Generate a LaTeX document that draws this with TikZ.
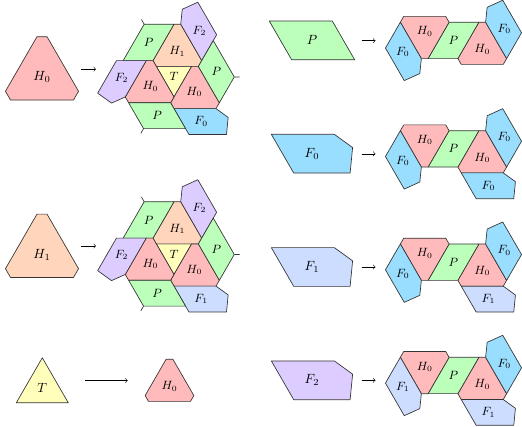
\documentclass[tikz,border=0pt]{standalone}

\definecolor{Hzero}{RGB}{255,187,187}
\definecolor{Hone}{RGB}{255,213,187}
\definecolor{Tcol}{RGB}{255,255,187}
\definecolor{Pcol}{RGB}{187,255,187}
\definecolor{Fzero}{RGB}{153,221,255}
\definecolor{Fone}{RGB}{204,221,255}
\definecolor{Ftwo}{RGB}{221,204,255}

\tikzset{
  tile/.style={draw=black!80, line width=0.5pt, line join=round},
  pics/Hmeta/.style 2 args={code={
    \draw[tile,fill=#1] (0,0)--(1,0)--(1.08,0.1386)--(0.58,1.0046)--(0.42,1.0046)--(-0.08,0.1386)--cycle;
    \node (-lbl) at (0.5,0.36) {$#2$};
  }},
  pics/Fmeta/.style 2 args={code={
    \draw[tile,fill=#1] (0,0)--(1,0)--(1.29,-0.21)--(1.25,-0.6149)--(0.355,-0.6149)--cycle;
    \node (-lbl) at (0.645,-0.307) {$#2$};
  }},
  pics/Pmeta/.style={code={
    \draw[tile,fill=Pcol] (0,0)--(1,0)--(1.355,-0.6149)--(0.355,-0.6149)--cycle;
    \node (-lbl) at (0.6775,-0.3074) {$P$};
  }},
}

% one H with its P and its F, origin at the centre of the T, turned by #6
\newcommand{\hexsector}[6]{%
  \begin{scope}[rotate=#6]
  \pic[rotate=#6] (#1h) at (-0.42,0.2425) {Hmeta={#2}{#3}};
  \draw[tile,fill=Pcol] (-0.5,0.3811)--(0,1.2471)--(-0.71,1.2471)--(-1.21,0.3811)--cycle;
  \node (#1p) at (-0.605,0.8141) {$P$};
  \pic[rotate=120+#6] (#1f) at (0.66,0.3811) {Fmeta={#4}{#5}};
  \end{scope}
}
% the patch of P: sector and its half turn
\newcommand{\Ppatch}[3]{%
  \hexsector{#1a}{Hzero}{H_0}{Fzero}{F_0}{0}
  \pic[rotate=180] (#1h) at (-0.79,1.3856) {Hmeta={Hzero}{H_0}};
  \pic[rotate=300] (#1f) at (-1.87,1.2471) {Fmeta={#2}{#3}};
}

\begin{document}
\begin{tikzpicture}[x=0.75pt, y=0.75pt]
\useasboundingbox (0,0) rectangle (522,426);

% prototiles
\begin{scope}[shift={(10.5,326)}, x=47.25pt, y=47.25pt]
\pic (protoHzero) at (0,0) {Hmeta={Hzero}{H_0}};
\end{scope}
\begin{scope}[shift={(10.5,148.55)}, x=47.25pt, y=47.25pt]
\pic (protoHone) at (0,0) {Hmeta={Hone}{H_1}};
\end{scope}
\draw[tile,fill=Tcol] (16.3,23.2)--(68.3,23.2)--(42.3,68.2)--cycle;
\node (protoT) at (42.3,38) {$T$};
\begin{scope}[shift={(269.3,404.97)}, x=47.25pt, y=47.25pt]
\pic (protoP) at (0,0) {Pmeta};
\end{scope}
\begin{scope}[shift={(271.35,291.67)}, x=47.25pt, y=47.25pt]
\pic (protoFzero) at (0,0) {Fmeta={Fzero}{F_0}};
\end{scope}
\begin{scope}[shift={(271.35,178.37)}, x=47.25pt, y=47.25pt]
\pic (protoFone) at (0,0) {Fmeta={Fone}{F_1}};
\end{scope}
\begin{scope}[shift={(271.35,65.07)}, x=47.25pt, y=47.25pt]
\pic (protoFtwo) at (0,0) {Fmeta={Ftwo}{F_2}};
\end{scope}

% arrows
\coordinate (aHzero) at (81,356.8);  \coordinate (bHzero) at (96,356.8);
\coordinate (aHone) at (81,180);     \coordinate (bHone) at (96,180);
\coordinate (aT) at (85,45.5);       \coordinate (bT) at (127.7,45.5);
\coordinate (aP) at (361.5,385.3);   \coordinate (bP) at (375.5,385.3);
\coordinate (aFzero) at (361.5,272.2); \coordinate (bFzero) at (375.5,272.2);
\coordinate (aFone) at (361.5,159);  \coordinate (bFone) at (375.5,159);
\coordinate (aFtwo) at (361.5,45.7); \coordinate (bFtwo) at (375.5,45.7);
\draw[->] (aHzero)--(bHzero);
\draw[->] (aHone)--(bHone);
\draw[->] (aT)--(bT);
\draw[->] (aP)--(bP);
\draw[->] (aFzero)--(bFzero);
\draw[->] (aFone)--(bFone);
\draw[->] (aFtwo)--(bFtwo);

% patch of H0
\begin{scope}[shift={(174,349.4)}, x=31.5pt, y=31.5pt, every node/.style={font=\small}]
\draw[tile,fill=Tcol] (-0.42,0.2425)--(0.42,0.2425)--(0,-0.485)--cycle;
\node (hzT) at (0,0) {$T$};
\hexsector{hzA}{Hone}{H_1}{Ftwo}{F_2}{0}
\hexsector{hzB}{Hzero}{H_0}{Fzero}{F_0}{-120}
\hexsector{hzC}{Hzero}{H_0}{Ftwo}{F_2}{120}
\draw[tile] (-0.71,1.2471)--+(120:0.13);
\draw[tile,rotate=-120] (-0.71,1.2471)--+(120:0.13);
\draw[tile,rotate=120] (-0.71,1.2471)--+(120:0.13);
\end{scope}

% patch of H1
\begin{scope}[shift={(174,171.9)}, x=31.5pt, y=31.5pt, every node/.style={font=\small}]
\draw[tile,fill=Tcol] (-0.42,0.2425)--(0.42,0.2425)--(0,-0.485)--cycle;
\node (hoT) at (0,0) {$T$};
\hexsector{hoA}{Hone}{H_1}{Ftwo}{F_2}{0}
\hexsector{hoB}{Hzero}{H_0}{Fone}{F_1}{-120}
\hexsector{hoC}{Hzero}{H_0}{Ftwo}{F_2}{120}
\draw[tile] (-0.71,1.2471)--+(120:0.13);
\draw[tile,rotate=-120] (-0.71,1.2471)--+(120:0.13);
\draw[tile,rotate=120] (-0.71,1.2471)--+(120:0.13);
\end{scope}

% patch of T
\begin{scope}[shift={(148.5,24.6)}, x=31.5pt, y=31.5pt, every node/.style={font=\small}]
\pic (tH) at (0,0) {Hmeta={Hzero}{H_0}};
\end{scope}

% patches of P, F0, F1, F2
\begin{scope}[shift={(478.9,351.4)}, x=31.5pt, y=31.5pt, every node/.style={font=\small}]
\Ppatch{pp}{Fzero}{F_0}
\end{scope}
\begin{scope}[shift={(478.9,242.93)}, x=31.5pt, y=31.5pt, every node/.style={font=\small}]
\Ppatch{fz}{Fzero}{F_0}
\pic (fzx) at (-0.42,0.2425) {Fmeta={Fzero}{F_0}};
\end{scope}
\begin{scope}[shift={(478.9,129.63)}, x=31.5pt, y=31.5pt, every node/.style={font=\small}]
\Ppatch{fo}{Fzero}{F_0}
\pic (fox) at (-0.42,0.2425) {Fmeta={Fone}{F_1}};
\end{scope}
\begin{scope}[shift={(478.9,16.33)}, x=31.5pt, y=31.5pt, every node/.style={font=\small}]
\Ppatch{ft}{Fone}{F_1}
\pic (ftx) at (-0.42,0.2425) {Fmeta={Fone}{F_1}};
\end{scope}

\end{tikzpicture}
\end{document}
